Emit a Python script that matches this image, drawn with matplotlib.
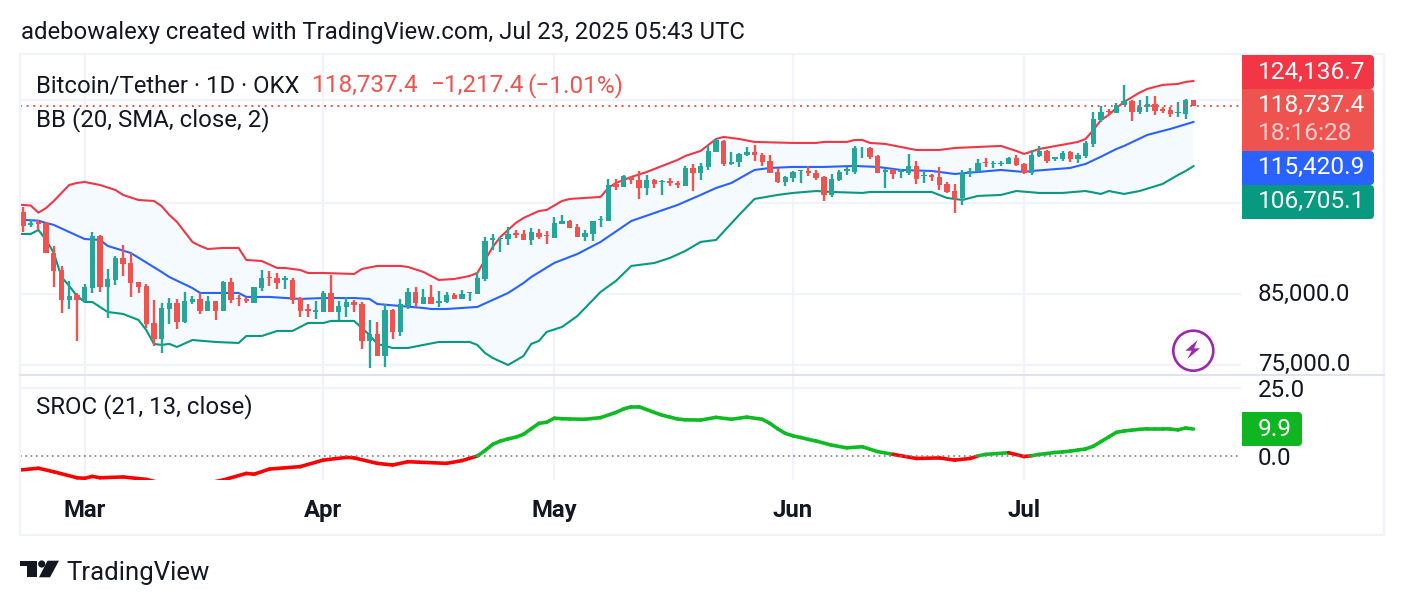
import matplotlib
matplotlib.use("Agg")
import matplotlib.pyplot as plt
from matplotlib.patches import Circle, FancyBboxPatch, Polygon, Rectangle
from matplotlib.ticker import NullLocator
from matplotlib.transforms import ScaledTranslation
import numpy as np
import pandas as pd

plt.rcParams["font.family"] = ["Roboto", "DejaVu Sans"]

W, H = 1404, 606
TEXT = "#131722"
GRID = "#F0F3FA"
SEP = "#E0E3EB"
UP = "#26A69A"
DOWN = "#EF5350"
UPPER = "#F23645"
BASIS = "#2962FF"
LOWER = "#089981"
BAND_FILL = "#F4FAFE"
SROC_UP = "#0FBB23"
SROC_DOWN = "#FF0000"

dates = pd.date_range("2025-02-21", periods=153)

opens = [
    98370, 96120, 96700, 96410, 91410, 88740, 84130, 84890, 84030, 85900,
    94270, 86100, 87180, 90600, 89800, 86870, 86250, 80720, 78550, 82800,
    83690, 80910, 83840, 84280, 82510, 83990, 82510, 86870, 84480, 84330,
    83740, 85950, 87590, 87490, 87180, 87180, 84430, 82800, 82410, 82410,
    85190, 82360, 83100, 83790, 83540, 78270, 79210, 76220, 82650, 79490,
    83250, 85340, 83540, 84590, 83640, 83890, 84880, 84330, 85190, 85040,
    87330, 93600, 93820, 93760, 94830, 94600, 93600, 94830, 94440, 93930,
    96350, 96810, 95790, 94150, 94600, 96980, 96810, 103330, 102900, 104740,
    104120, 102650, 104120, 103750, 103940, 103570, 103020, 106300, 105430, 106560,
    109430, 111590, 107130, 107510, 108850, 109430, 108920, 107700, 105610, 103750,
    104490, 105800, 105800, 105370, 104680, 101390, 104060, 105800, 105610, 110150,
    110210, 108660, 105610, 105990, 105610, 105430, 106680, 104870, 105050, 104620,
    103330, 102050, 100850, 105430, 105800, 107510, 107060, 107190, 107130, 108270,
    107130, 105430, 108660, 109630, 108080, 108080, 109370, 108080, 108660, 111000,
    115830, 117770, 117280, 118960, 119810, 117490, 118540, 119180, 118120, 117910,
    117280, 117080, 119955,
]
highs = [
    99300, 96980, 96980, 96700, 92610, 89370, 87070, 85140, 86510, 94940,
    94440, 88900, 91030, 92770, 91410, 86870, 86510, 84130, 83740, 84430,
    84230, 85340, 84740, 85240, 84740, 83990, 87070, 87490, 84890, 84640,
    86100, 88740, 88580, 88220, 87850, 87490, 84590, 83540, 83990, 85490,
    87970, 83990, 84640, 84130, 83840, 81200, 80910, 83540, 82800, 84280,
    85950, 86100, 85795, 86410, 85490, 85390, 85140, 85640, 85340, 88480,
    94050, 94600, 94150, 95730, 95270, 95220, 95560, 95390, 95160, 97440,
    97850, 96980, 96240, 95220, 96810, 97670, 104310, 104240, 105050, 104870,
    105800, 105050, 104310, 104120, 104560, 103880, 106750, 107130, 107320, 110800,
    111990, 111790, 109430, 109180, 110410, 110800, 109180, 108850, 106370, 104870,
    105800, 105990, 106750, 105990, 104870, 105240, 105990, 106490, 110610, 110350,
    110410, 108850, 106180, 106180, 106180, 109050, 107700, 105610, 105240, 106560,
    103820, 103330, 105990, 106370, 108080, 108270, 107700, 107630, 108470, 108850,
    107320, 109820, 110610, 109820, 108530, 109630, 109630, 109240, 111660, 117490,
    118760, 118190, 119320, 123270, 120020, 120020, 120880, 120880, 118540, 118540,
    119600, 120240, 120020,
]
lows = [
    95000, 95830, 95270, 91410, 86150, 82260, 82850, 78270, 83890, 85140,
    85290, 81540, 86410, 87800, 84640, 85240, 80050, 77590, 76630, 80670,
    79960, 80770, 83540, 82070, 82510, 81200, 82510, 83740, 83240, 83690,
    83740, 85490, 86250, 85790, 85790, 83590, 81680, 81630, 81340, 82360,
    82360, 81200, 81630, 82360, 77170, 74580, 76220, 74720, 78500, 78970,
    82850, 83150, 83540, 83540, 83150, 83740, 84280, 84280, 83990, 85040,
    87020, 91950, 91680, 92770, 93990, 93650, 92770, 93760, 92940, 93930,
    96350, 95670, 94100, 93430, 93430, 95790, 96810, 102350, 102900, 103390,
    100670, 101390, 102650, 101390, 103020, 102650, 103020, 102110, 104120, 105990,
    109430, 106750, 106940, 106560, 108660, 107700, 106750, 105370, 103570, 103020,
    103750, 103570, 104870, 104120, 100370, 101030, 103880, 105050, 105240, 108270,
    108080, 105430, 102650, 104310, 104490, 105050, 103390, 103570, 103940, 102290,
    101750, 98200, 99600, 104740, 105610, 106560, 106370, 106750, 107130, 106750,
    105240, 105050, 108470, 107320, 107700, 107700, 107510, 107320, 108270, 110410,
    115430, 116870, 117280, 118960, 115630, 117080, 117490, 116870, 117280, 116460,
    116460, 116040, 118640,
]
closes = [
    96010, 96520, 96300, 91410, 88630, 84130, 84740, 84130, 86100, 94270,
    86050, 87330, 90710, 89690, 86770, 86100, 80580, 78550, 82950, 83690,
    80910, 83990, 84330, 82510, 83990, 82510, 86870, 84130, 84280, 83940,
    86100, 87490, 87440, 86720, 87490, 84130, 82550, 82550, 82650, 85190,
    82360, 83250, 83840, 83440, 78270, 79210, 76220, 82650, 79530, 83540,
    85340, 83690, 84590, 83540, 83990, 84880, 84280, 85090, 85290, 87490,
    93430, 93870, 93990, 94600, 94440, 93650, 94940, 94050, 94210, 96470,
    96810, 95670, 94100, 94710, 96750, 97210, 103200, 102900, 104800, 104120,
    102650, 104120, 103390, 103940, 103570, 103200, 106370, 105430, 106750, 109630,
    111790, 107130, 107510, 109050, 109430, 108850, 107510, 105370, 103750, 104680,
    105610, 105920, 105430, 104430, 101390, 104250, 105610, 106110, 110280, 110280,
    108470, 105430, 105990, 105240, 105800, 106680, 104310, 105050, 104740, 103200,
    101930, 100850, 105430, 105800, 107320, 107250, 107250, 107380, 108270, 106940,
    105430, 108790, 109630, 107700, 108470, 109240, 108080, 108850, 111130, 116040,
    117490, 117420, 118960, 119810, 117560, 118540, 119180, 117700, 117700, 117080,
    117490, 120020, 118737.4,
]

upper_days = [
    -1, 1, 2, 3, 4, 5, 6, 7, 8, 10, 12, 13, 15, 17, 18, 19, 20, 22, 23, 24, 26, 28, 29,
    31, 33, 34, 36, 37, 39, 43, 44, 46, 49, 50, 52, 54, 56, 58, 59, 60, 61, 62, 64, 65,
    67, 68, 70, 71, 75, 76, 77, 79, 81, 84, 85, 86, 88, 90, 91, 93, 95, 100, 103, 104,
    107, 108, 109, 110, 112, 116, 119, 121, 127, 129, 130, 132, 137, 138, 139, 140, 141,
    142, 143, 144, 145, 146, 148, 150, 151, 152,
]
upper_band = [
    99690, 99510, 98250, 99070, 100310, 101750, 103200, 103570, 103750, 103200, 102288,
    101390, 100487, 100310, 99400, 97850, 96640, 93270, 92610, 92110, 92280, 92280,
    90330, 90170, 89060, 89060, 88740, 88270, 88270, 88110, 88900, 89380, 89380, 89220,
    88430, 87180, 87330, 87800, 88270, 90330, 92440, 94100, 96470, 97330, 98540, 98720,
    100310, 100670, 101030, 102650, 103570, 104680, 105610, 107320, 107890, 108660,
    109630, 111990, 112390, 111990, 111400, 111200, 111200, 111400, 111400, 111790,
    111790, 111200, 111000, 109820, 109820, 110210, 110610, 109630, 109050, 110020,
    111400, 111990, 113790, 115830, 116870, 118330, 119600, 120600, 121590, 122390,
    123270, 123490, 123930, 124136.7,
]
basis_days = [
    -1, 2, 3, 4, 6, 8, 10, 11, 14, 18, 19, 22, 23, 25, 28, 29, 32, 36, 39, 43, 45, 46,
    49, 52, 53, 55, 59, 63, 65, 66, 69, 72, 75, 79, 85, 88, 90, 92, 95, 97, 100, 104,
    108, 111, 114, 118, 121, 124, 127, 130, 131, 136, 138, 140, 142, 143, 146, 149, 152,
]
basis_band = [
    97070, 96860, 96470, 96130, 94930, 93760, 93600, 92610, 91460, 88430, 87640, 85940,
    85190, 85190, 85190, 84590, 84590, 84290, 84430, 84430, 84290, 83540, 83240, 82950,
    82800, 82800, 83100, 85190, 86710, 87640, 89860, 91300, 93270, 96810, 99600, 101390,
    102650, 103570, 105990, 106370, 106560, 106560, 106750, 106560, 105990, 105800,
    105240, 105610, 105990, 105610, 105800, 106370, 107130, 108520, 110020, 110610,
    112790, 114000, 115420.9,
]
lower_days = [
    -1, 1, 2, 3, 4, 5, 6, 7, 8, 9, 11, 13, 15, 16, 17, 18, 19, 20, 22, 25, 28, 29, 31,
    33, 35, 37, 39, 40, 43, 45, 46, 48, 50, 52, 54, 58, 59, 60, 61, 63, 65, 66, 67, 68,
    70, 72, 73, 74, 75, 77, 79, 82, 84, 86, 88, 90, 93, 95, 98, 100, 103, 105, 109, 110,
    115, 118, 120, 122, 124, 127, 129, 132, 135, 138, 140, 141, 143, 145, 148, 150, 151,
    152,
]
lower_band = [
    94600, 94600, 95273, 93600, 91460, 87640, 86260, 84740, 83840, 83840, 82360, 82070,
    81200, 79770, 77820, 77680, 77820, 77400, 78360, 78090, 77950, 78920, 78920, 79630,
    79630, 80770, 80770, 81060, 81060, 79060, 77820, 77260, 77260, 77680, 78090, 78090,
    77680, 76580, 75900, 74960, 76170, 77820, 78230, 79490, 80200, 81780, 82950, 84130,
    85340, 87020, 89380, 89850, 90650, 91780, 93270, 93600, 97850, 100670, 101390,
    101750, 102100, 101930, 101750, 101930, 101930, 101930, 100850, 100490, 101210,
    101390, 102100, 101750, 101750, 102100, 101570, 102100, 101570, 102100, 103390,
    105050, 105800, 106705.1,
]

sroc_days = [
    -1, 2, 4, 7, 8, 9, 10, 13, 16, 18, 21, 24, 26, 29, 30, 32, 36, 39, 42, 43, 46, 48,
    50, 55, 57, 59, 60, 61, 62, 63, 64, 65, 66, 67, 68, 69, 70, 71, 73, 75, 77, 78, 79,
    80, 82, 83, 84, 85, 86, 88, 90, 92, 94, 96, 97, 98, 99, 100, 101, 102, 103, 105, 107,
    109, 111, 113, 116, 119, 121, 123, 124, 125, 128, 130, 131, 132, 133, 134, 135, 136,
    137, 138, 139, 140, 141, 142, 143, 144, 145, 146, 147, 148, 149, 150, 151, 152,
]
sroc_values = [
    -5.3, -4.5, -5.8, -8.0, -8.2, -7.5, -8.0, -7.7, -8.6, -10.0, -11.0, -10.0, -8.8,
    -6.4, -6.7, -4.8, -3.9, -1.5, -0.5, -0.7, -2.7, -3.3, -2.1, -2.7, -1.7, 0.0, 2.0,
    4.3, 5.5, 6.3, 6.9, 8.0, 10.0, 12.0, 12.4, 13.9, 13.7, 13.6, 13.5, 14.1, 16.0, 17.3,
    18.1, 18.1, 16.0, 15.0, 14.3, 13.6, 13.3, 13.2, 14.2, 13.5, 14.3, 13.5, 12.0, 10.0,
    8.3, 7.4, 6.8, 6.1, 5.5, 4.0, 3.0, 3.4, 1.6, 0.6, -0.9, -0.7, -1.5, -0.9, 0.0, 0.6,
    1.2, -0.2, 0.1, 0.6, 0.9, 1.3, 1.5, 1.8, 2.2, 2.6, 3.6, 5.3, 7.0, 8.7, 9.2, 9.5, 9.8,
    10.0, 10.0, 10.0, 9.9, 9.6, 10.3, 9.9,
]

price_grid = [75000, 85000, 100000, 120000]
price_labels = ["75,000.0", "85,000.0", "", ""]
last_close = 118737.4


def pane(top, bottom):
    return [20 / W, 1 - bottom / H, 1221 / W, (bottom - top) / H]


def price_tag(over, y0, y1, color, x1=1374):
    over.add_patch(FancyBboxPatch((1242, y0), x1 - 1242, y1 - y0, boxstyle="round,pad=0,rounding_size=4",
                                  fc=color, ec="none"))
    over.add_patch(Rectangle((1242, y0), 8, y1 - y0, fc=color, ec="none"))


def main():
    fig = plt.figure(figsize=(W / 100, H / 100), dpi=100)
    ax = fig.add_axes(pane(54, 374))
    ax2 = fig.add_axes(pane(376, 480))

    days = np.arange(len(dates))
    month_days = days[dates.is_month_start]
    xlim = (-0.39, 158.18)

    # candles: wicks under bodies
    o, c = np.array(opens, float), np.array(closes, float)
    colors = [UP if b >= a else DOWN for a, b in zip(o, c)]
    ax.fill(np.r_[upper_days, lower_days[::-1]], np.r_[upper_band, lower_band[::-1]],
            color=BAND_FILL, lw=0, zorder=1)
    ax.plot(upper_days, upper_band, color=UPPER, lw=1.5, zorder=2)
    ax.plot(basis_days, basis_band, color=BASIS, lw=1.5, zorder=2)
    ax.plot(lower_days, lower_band, color=LOWER, lw=1.5, zorder=2)
    ax.vlines(days, lows, highs, colors=colors, lw=1.7, zorder=3)
    ax.bar(days, np.abs(c - o), bottom=np.minimum(o, c), width=0.7, color=colors, lw=0, zorder=3)
    ax.axhline(last_close, color=DOWN, lw=1.4, ls=(0, (1, 2.4)), zorder=4)

    ax.set_yscale("log")
    ax.set_xlim(*xlim)
    ax.set_ylim(73771, 130230)
    ax.yaxis.set_minor_locator(NullLocator())
    ax.yaxis.set_major_locator(plt.FixedLocator(price_grid))
    ax.yaxis.set_major_formatter(plt.FixedFormatter(price_labels))
    ax.yaxis.tick_right()
    ax.set_xticks(month_days, labels=[])

    # momentum pane, coloured by sign
    for i in range(len(sroc_days) - 1):
        col = SROC_UP if sroc_values[i + 1] >= 0 and sroc_values[i] >= 0 else SROC_DOWN
        ax2.plot(sroc_days[i:i + 2], sroc_values[i:i + 2], color=col, lw=2.6, solid_capstyle="round", zorder=2)
    ax2.axhline(0, color="#787B86", lw=1.2, ls=(0, (1, 2.2)), zorder=3)
    ax2.set_xlim(*xlim)
    ax2.set_ylim(-8.82, 29.4)
    ax2.yaxis.tick_right()
    ax2.set_yticks([0, 25], labels=["0.0", "25.0"])
    ax2.set_xticks(month_days, labels=dates[dates.is_month_start].strftime("%b"))
    ax2.axhline(25, color=GRID, lw=1.5, zorder=1)

    for a in (ax, ax2):
        for s in a.spines.values():
            s.set_visible(False)
        a.patch.set_alpha(0)
        a.tick_params(length=0, labelsize=17.4, labelcolor=TEXT)
        a.tick_params(axis="y", pad=12)
        a.grid(True, axis="x", color=GRID, lw=1.5)
        a.set_axisbelow(True)
    ax.grid(True, axis="y", color=GRID, lw=1.5)
    ax2.tick_params(axis="x", pad=14, labelsize=17.2)
    for t in ax2.get_xticklabels():
        t.set_fontweight("bold")
    # price scale text sits a little above its grid level
    lift = ScaledTranslation(0, 2.5 / 100, fig.dpi_scale_trans)
    for t in ax.get_yticklabels():
        t.set_transform(t.get_transform() + lift)

    # overlay in figure pixels for frame, price tags and captions
    over = fig.add_axes([0, 0, 1, 1], zorder=5)
    over.set_xlim(0, W)
    over.set_ylim(H, 0)
    over.axis("off")
    over.add_patch(Rectangle((20, 54), 1364, 481, fc="none", ec=GRID, lw=1.5))
    over.plot([20, 1384], [375, 375], color=SEP, lw=1.5)

    price_tag(over, 55, 89, UPPER)
    price_tag(over, 151, 185, BASIS)
    price_tag(over, 185, 219, LOWER)
    price_tag(over, 89, 151, DOWN)
    price_tag(over, 412, 446, "#10B622", x1=1302)

    def label(x, y, s, color=TEXT, size=17.3, **kw):
        over.text(x, y + 1, s, color=color, fontsize=size, va="center", ha="left", **kw)

    label(1257.5, 71, "124,136.7", "white", 17.6)
    label(1257.5, 104, "118,737.4", "white", 17.6)
    label(1257.5, 132, "18:16:28", "#FBCFCD", 17.6)
    label(1257.5, 166, "115,420.9", "white", 17.6)
    label(1257.5, 200, "106,705.1", "white", 17.6)
    label(1258, 429, "9.9", "white", 17.6)

    label(21, 31, "adebowalexy created with TradingView.com, Jul 23, 2025 05:43 UTC", size=17.2)
    label(36, 84.5, "Bitcoin/Tether · 1D · OKX", size=17.2)
    label(312, 84.5, "118,737.4", DOWN, 17.5)
    label(430, 84.5, "−1,217.4", DOWN, 17.5)
    label(527, 84.5, "(−1.01%)", DOWN, 17.5)
    label(36, 118.5, "BB (20, SMA, close, 2)")
    label(36, 405.5, "SROC (21, 13, close)")
    label(66, 572, "TradingView", size=18.5)

    # lightning badge
    over.add_patch(Circle((1193.3, 350.7), 20, fc="none", ec="#9C27B0", lw=1.9))
    over.add_patch(Polygon([(1197.7, 340), (1185.3, 350.7), (1191.7, 350.7), (1187.3, 359),
                            (1200, 348.3), (1194, 348.3)], fc="#9C27B0", ec="none"))

    # logo
    over.add_patch(Polygon([(20, 560.7), (37.3, 560.7), (37.3, 577.3), (27.3, 577.3), (27.3, 566), (20, 566)],
                           fc=TEXT, ec="none"))
    over.add_patch(Circle((41.7, 564), 3.6, fc=TEXT, ec="none"))
    over.add_patch(Polygon([(47.5, 560.7), (59, 560.7), (50, 577.3), (39, 577.3)], fc=TEXT, ec="none"))

    fig.savefig("out.png", dpi=100, facecolor="white")


if __name__ == "__main__":
    main()
